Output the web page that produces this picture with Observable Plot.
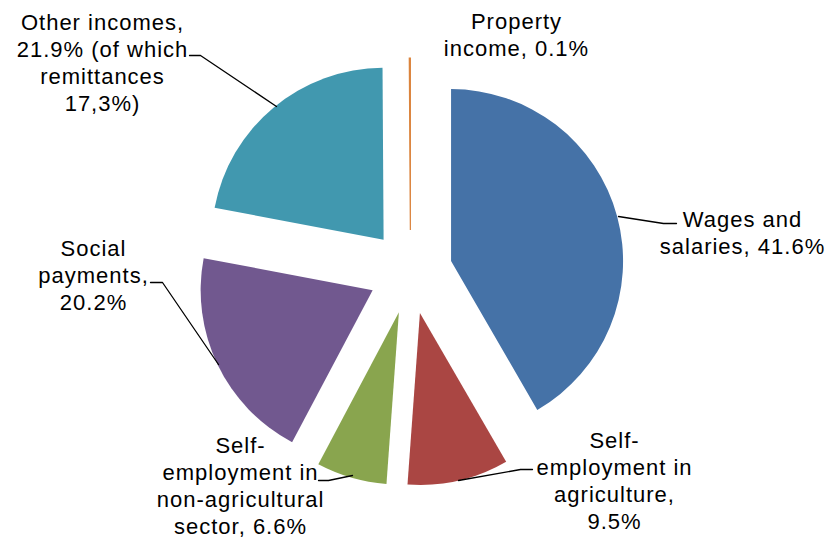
<!DOCTYPE html>
<html><head><meta charset="utf-8">
<script src="https://cdn.jsdelivr.net/npm/d3@7"></script>
<script src="https://cdn.jsdelivr.net/npm/@observablehq/plot@0.6"></script>
<style>body{margin:0;background:#fff;}</style>
</head><body><div id="chart"></div>
<script>
// ---- data ----
const categories = ["Wages and salaries", "Self-employment in agriculture", "Self-employment in non-agricultural sector", "Social payments", "Other incomes", "Property income"];
const shares = [41.6, 9.5, 6.6, 20.2, 21.9, 0.1];
const labels = [
  "Wages and\nsalaries, 41.6%",
  "Self-\nemployment in\nagriculture,\n9.5%",
  "Self-\nemployment in\nnon-agricultural\nsector, 6.6%",
  "Social\npayments,\n20.2%",
  "Other incomes,\n21.9% (of which\nremittances\n17,3%)",
  "Property\nincome, 0.1%"
];
const colors = ["#4572A7", "#AA4643", "#89A54E", "#71588F", "#4198AF", "#DB843D"];

// ---- layout (pixels in the canvas coordinate system) ----
const W = 828, H = 543;
const center = [410.5, 272], radius = 172, explode = 42;
const labelPos = [[742, 231], [614, 479], [240, 484], [93, 274], [102, 61], [516, 33]];
const leaders = [
  [[618, 216], [663, 223], [676, 223]],
  [[458, 480], [520, 469], [532, 469]],
  [[352, 475], [328, 480], [318, 480]],
  [[218, 364], [162, 282], [150, 282]],
  [[276, 106], [200, 55], [189, 55]],
  []
];

const table = categories.map((c, i) => ({category: c, share: shares[i], label: labels[i]}));
const pie = d3.pie().sort(null).value(d => d.share).startAngle(0).endAngle(2 * Math.PI)(table);

const leaderPts = leaders.flatMap((pts, i) => pts.map(([x, y]) => ({x, y, k: categories[i]})));
const labelData = table.map((d, i) => ({...d, x: labelPos[i][0], y: labelPos[i][1]}));

function pieMark(index, scales) {
  const g = d3.create("svg:g");
  const arc = d3.arc().innerRadius(0).outerRadius(scales.x(radius) - scales.x(0));
  const cx = scales.x(center[0]), cy = scales.y(center[1]);
  for (const a of pie) {
    const mid = (a.startAngle + a.endAngle) / 2;
    const dx = explode * Math.sin(mid), dy = -explode * Math.cos(mid);
    g.append("path")
      .attr("d", arc(a))
      .attr("transform", `translate(${cx + dx},${cy + dy})`)
      .attr("fill", scales.color(a.data.category))
      .attr("stroke", a.data.share < 1 ? scales.color(a.data.category) : "none")
      .attr("stroke-width", a.data.share < 1 ? 1.2 : 0);
  }
  return g.node();
}

const chart = Plot.plot({
  width: W, height: H,
  margin: 0,
  x: {domain: [0, W], range: [0, W], axis: null},
  y: {domain: [0, H], range: [0, H], axis: null},
  color: {domain: categories, range: colors},
  style: {background: "#fff", fontFamily: "'Liberation Sans', Arial, sans-serif", letterSpacing: "1px"},
  marks: [
    pieMark,
    Plot.line(leaderPts, {x: "x", y: "y", z: "k", stroke: "#000", strokeWidth: 1.3}),
    Plot.text(labelData, {x: "x", y: "y", text: "label", textAnchor: "middle", lineAnchor: "middle",
      lineHeight: 1.23, fontSize: 22, fill: "#000"})
  ]
});
document.getElementById("chart").append(chart);
</script>
</body></html>
